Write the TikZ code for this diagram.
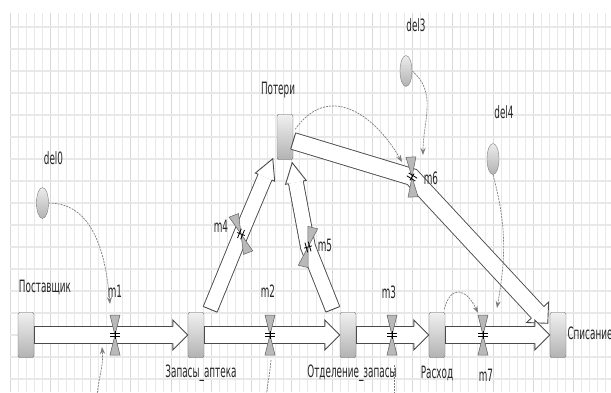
\documentclass[tikz,border=0pt]{standalone}
\usepackage{fontspec}
\newfontfamily\lblfont[FakeStretch=0.52]{DejaVu Sans}
\usepackage{tikz}
\usetikzlibrary{arrows.meta,calc,positioning,shapes.geometric}
\definecolor{gridclr}{HTML}{E8E8E8}
\definecolor{gridbold}{HTML}{D8D8D8}
\definecolor{pipeclr}{HTML}{4A4A4A}
\definecolor{linkclr}{HTML}{7C7C7C}
\tikzset{
    stock/.style={
           rectangle,
           rounded corners=2pt,
           draw=black!60,
           top color=gray!12, bottom color=gray!60,
           minimum width=16pt,
           minimum height=45pt,
           inner sep=0pt,
           },
    aux/.style={
           ellipse,
           draw=black!50,
           top color=gray!15, bottom color=gray!60,
           minimum width=12pt,
           minimum height=31pt,
           inner sep=0pt,
           },
    lbl/.style={font=\lblfont\fontsize{17}{19}\selectfont, text=black!85, inner sep=0pt},
    pipe/.style={draw=pipeclr, line width=0.9pt, double=white, double distance=\pd, line join=miter},
    pipeline/.style={draw=pipeclr, line width=0.9pt, line join=miter},
    link/.style={draw=linkclr, line width=0.7pt, dash pattern=on 2pt off 1pt,
           -{Stealth[length=7pt,width=5pt]}},
    valve/.pic={
        \filldraw[draw=gray!75!black, fill=gray!55, line width=0.5pt]
            (-5,-20) -- (5,-20) -- (0,0) -- (5,20) -- (-5,20) -- (0,0) -- cycle;
    },
    valvemark/.pic={
        \draw[black, line width=0.8pt] (-5,-1.7) -- (5,-1.7) (-5,1.7) -- (5,1.7) (0,-4) -- (0,4);
    },
}
% pipe sizes: outer half width, gap, head half width, head length
\def\pw{8.45pt}\def\pd{16pt}\def\hw{15pt}\def\hl{15pt}
% flow pipe: start, through (valve), tip
\newcommand\flowpipe[3]{%
  \coordinate (hb) at ($(#3)!\hl!(#2)$);
  \draw[pipe] (#1) -- (#2) -- (hb);
  \fill[white] ($(hb)!\hw!90:(#3)$) -- (#3) -- ($(hb)!\hw!-90:(#3)$) -- cycle;
  \draw[pipeline] ($(hb)!\pw!90:(#3)$) -- ($(hb)!\hw!90:(#3)$) -- (#3)
        -- ($(hb)!\hw!-90:(#3)$) -- ($(hb)!\pw!-90:(#3)$);
  \draw[pipeline] ($(#1)!\pw!90:(#2)$) -- ($(#1)!\pw!-90:(#2)$);
}

\begin{document}
\begin{tikzpicture}[x=1pt,y=-1pt]
 \useasboundingbox (0,0) rectangle (611,392);
 \clip (0,0) rectangle (611,392);

 % background grid
 \foreach \gx in {0,...,75}
   \draw[gridclr, line width=0.8pt] ({10+8.05*\gx},13) -- ({10+8.05*\gx},392);
 \foreach \gx in {0,5,...,75}
   \draw[gridbold, line width=0.8pt] ({10+8.05*\gx},13) -- ({10+8.05*\gx},392);
 \foreach \gy in {0,...,16}
   \draw[gridclr, line width=1.8pt] (10,{26.7+22*\gy}) -- (611,{26.7+22*\gy});

 % stocks
 \node[stock] (POST) at (26,335) {};
 \node[stock,
  right of=POST,        % next stock along the chain
  node distance=170pt] (ZAP) {};
 \node[stock, right of=ZAP, node distance=152pt] (OTD) {};
 \node[stock, right of=OTD, node distance=89pt] (RASH) {};
 \node[stock, right of=RASH, node distance=121pt] (SPIS) {};
 \node[stock] (POT) at (285,137) {};

 % auxiliaries
 \node[aux] (DEL0) at (42.5,203) {};
 \node[aux] (DEL3) at (406,71) {};
 \node[aux] (DEL4) at (493,159) {};

 % valves
 \coordinate (M1) at (115,335);
 \coordinate (M2) at (270,335);
 \coordinate (M3) at (392,335);
 \coordinate (M7) at (483,335);
 \coordinate (M4) at (241,234);
 \coordinate (M5) at (308,247);
 \coordinate (M6) at (412,177);

 % free ends
 \coordinate (P4s) at ([xshift=6pt,yshift=3pt]ZAP.north east);
 \coordinate (P4e) at ([xshift=-4pt,yshift=1pt]POT.south west);
 \coordinate (P5s) at ([xshift=-7pt,yshift=3pt]OTD.north west);
 \coordinate (P5e) at ([xshift=-1pt,yshift=-3pt]POT.south east);
 \coordinate (P6s) at ([yshift=-4pt]POT.east);
 \coordinate (P6e) at ([xshift=-2pt,yshift=-11pt]SPIS.north west);
 \coordinate (B1) at (97,396);
 \coordinate (B2) at (266,400);
 \coordinate (B3) at (394,400);

 % flows
 \flowpipe{POST.east}{M1}{ZAP.west}
 \flowpipe{ZAP.east}{M2}{OTD.west}
 \flowpipe{OTD.east}{M3}{RASH.west}
 \flowpipe{P6s}{M6}{P6e}
 \flowpipe{RASH.east}{M7}{SPIS.west}
 % thinner pipes up to Потери
 \def\pw{7.45pt}\def\pd{14pt}\def\hw{10.5pt}\def\hl{20pt}
 \flowpipe{P4s}{M4}{P4e}
 \flowpipe{P5s}{M5}{P5e}

 \pic at (M1) {valve};
 \pic at (M2) {valve};
 \pic at (M3) {valve};
 \pic at (M7) {valve};
 \pic[rotate=21] at (M4) {valve};
 \pic[rotate=-14] at (M5) {valve};
 \pic[rotate=3] at (M6) {valve};
 \pic at (M1) {valvemark};
 \pic at (M2) {valvemark};
 \pic at (M3) {valvemark};
 \pic at (M7) {valvemark};
 \pic[rotate=68] at (M4) {valvemark};
 \pic[rotate=106] at (M5) {valvemark};
 \pic[rotate=-32] at (M6) {valvemark};

 % labels
 \node[lbl, above of=POST, node distance=48pt, xshift=19pt] (POSTL) {Поставщик};
 \node[lbl, below of=ZAP, node distance=38pt, xshift=5pt] (ZAPL) {Запасы\_аптека};
 \node[lbl, below of=OTD, node distance=38pt, xshift=4pt] (OTDL) {Отделение\_запасы};
 \node[lbl, below of=RASH, node distance=38pt] (RASHL) {Расход};
 \node[lbl, right of=SPIS, node distance=32pt, yshift=2pt] (SPISL) {Списание};
 \node[lbl, above of=POT, node distance=47pt, xshift=-7pt] (POTL) {Потери};

 \node[lbl, above of=M1, node distance=44pt] (M1L) {m1};
 \node[lbl, above of=M2, node distance=44pt, xshift=-2pt] (M2L) {m2};
 \node[lbl, above of=M3, node distance=43pt, xshift=-3pt] (M3L) {m3};
 \node[lbl, below of=M7, node distance=40pt, xshift=3pt] (M7L) {m7};
 \node[lbl, left of=M4, node distance=20pt, yshift=8pt] (M4L) {m4};
 \node[lbl, right of=M5, node distance=17pt, yshift=2pt] (M5L) {m5};
 \node[lbl, right of=M6, node distance=19pt, yshift=-1pt] (M6L) {m6};

 \node[lbl, above of=DEL0, node distance=45pt, xshift=11pt] (DEL0L) {del0};
 \node[lbl, above of=DEL3, node distance=46pt, xshift=10pt] (DEL3L) {del3};
 \node[lbl, above of=DEL4, node distance=47pt, xshift=11pt] (DEL4L) {del4};

 % links
 \draw[link] (DEL0.east) to[out=0, in=95] ([xshift=-5pt,yshift=31pt]M1);
 \draw[link] (B1) to[out=85, in=-85] ([xshift=-13pt,yshift=-12pt]M1);
 \draw[link] ([xshift=1pt,yshift=-25pt]M2) to[out=-95, in=85] (B2);
 \draw[link] ([xshift=2pt,yshift=-30pt]M3) -- (B3);
 \draw[link] ([xshift=-1pt,yshift=3pt]RASH.north east) to[out=75, in=115, looseness=2] ([xshift=-5pt,yshift=22pt]M7);
 \draw[link] (DEL4.south) to[out=-75, in=80] ([xshift=14pt,yshift=27pt]M7);
 \draw[link] ([xshift=2pt,yshift=-15pt]POT.north east) to[out=55, in=120, looseness=1.3] ([xshift=-10pt,yshift=15pt]M6);
 \draw[link] (DEL3.east) to[out=-40, in=90] ([xshift=11pt,yshift=22pt]M6);
\end{tikzpicture}
\end{document}
